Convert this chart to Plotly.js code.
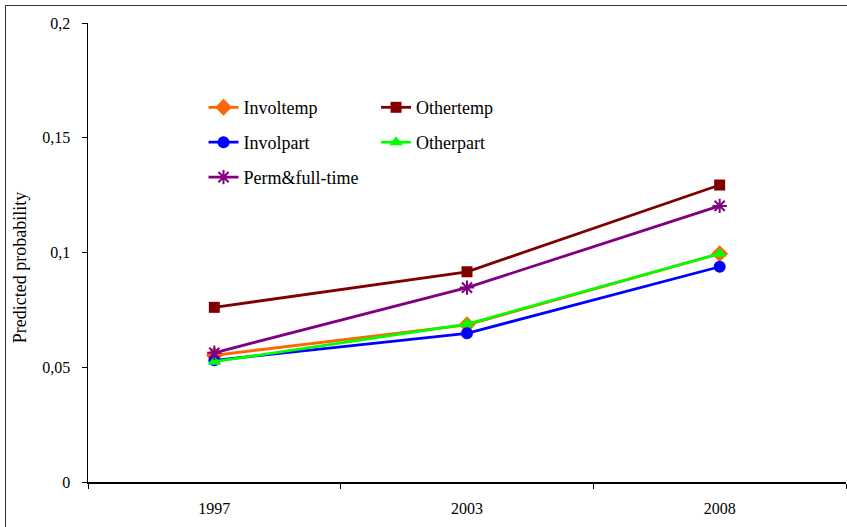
<!DOCTYPE html>
<html>
<head>
<meta charset="utf-8">
<script src="https://cdn.plot.ly/plotly-3.0.1.min.js"></script>
<style>
  html, body { margin:0; padding:0; background:#fff; }
  #chart { width:847px; height:527px; position:absolute; left:0; top:0; }
  #frame { position:absolute; left:5px; top:5px; width:900px; height:600px;
           border-left:1.5px solid #333; border-top:1.5px solid #333; pointer-events:none; }
</style>
</head>
<body>
<div id="chart"></div>
<div id="frame"></div>
<script>
const years = ['1997', '2003', '2008'];
const involtemp = [0.0552, 0.0685, 0.0995];
const othertemp = [0.0761, 0.0916, 0.1294];
const involpart = [0.0530, 0.0648, 0.0938];
const otherpart = [0.0524, 0.0688, 0.0995];
const permFull = [0.0563, 0.0847, 0.1203];
const yTicks = [0, 0.05, 0.1, 0.15, 0.2];
const yTickText = ['0', '0,05', '0,1', '0,15', '0,2'];

const FONT = '"Liberation Serif", "DejaVu Serif", serif';

function tr(name, y, color, symbol, size, legend) {
  return {
    type: 'scatter', mode: 'lines+markers', name: name, x: years, y: y,
    line: { color: color, width: 2.8 },
    marker: { color: color, symbol: symbol, size: size,
              line: { color: color, width: symbol === 'asterisk' ? 2 : 0 } },
    legend: legend, legendgroup: name
  };
}

const data = [
  tr('Involtemp', involtemp, '#FF6600', 'diamond', 13, 'legend'),
  tr('Othertemp', othertemp, '#800000', 'square', 11, 'legend2'),
  tr('Involpart', involpart, '#0000FF', 'circle', 12, 'legend'),
  tr('Otherpart', otherpart, '#00FF00', 'triangle-up', 12, 'legend2'),
  tr('Perm&full-time', permFull, '#800080', 'asterisk', 12, 'legend')
];

const legendCommon = {
  font: { family: FONT, size: 18, color: '#000' },
  bgcolor: 'rgba(0,0,0,0)', borderwidth: 0,
  xanchor: 'left', yanchor: 'top', tracegroupgap: 8.5,
  orientation: 'v'
};

const layout = {
  width: 847, height: 527,
  margin: { l: 88, r: 1, t: 23, b: 45 },
  paper_bgcolor: '#fff', plot_bgcolor: '#fff',
  separators: ',.',
  font: { family: FONT, size: 15, color: '#000' },
  xaxis: {
    type: 'category', range: [-0.5, 2.5],
    showline: true, linecolor: '#000', linewidth: 1.5,
    ticks: 'outside', ticklen: 5, tickwidth: 1, tickcolor: '#000',
    tickson: 'boundaries', showgrid: false, zeroline: false,
    ticklabelstandoff: 11,
    tickfont: { family: FONT, size: 16, color: '#000' }
  },
  yaxis: {
    range: [0, 0.2], tickvals: yTicks, ticktext: yTickText,
    showline: true, linecolor: '#000', linewidth: 1.5,
    ticks: 'outside', ticklen: 5, tickwidth: 1, tickcolor: '#000',
    showgrid: false, zeroline: false, ticklabelstandoff: 8,
    tickfont: { family: FONT, size: 16, color: '#000' }
  },
  legend: Object.assign({}, legendCommon, { x: 0.1524, y: 0.8560 }),
  legend2: Object.assign({}, legendCommon, { x: 0.3800, y: 0.8560 }),
  annotations: [{
    text: 'Predicted probability', textangle: -90,
    xref: 'paper', yref: 'paper', x: -0.0896, y: 0.466,
    xanchor: 'center', yanchor: 'middle', showarrow: false,
    font: { family: FONT, size: 18, color: '#000' }
  }]
};

Plotly.newPlot('chart', data, layout, { displayModeBar: false, staticPlot: true });
</script>
</body>
</html>
